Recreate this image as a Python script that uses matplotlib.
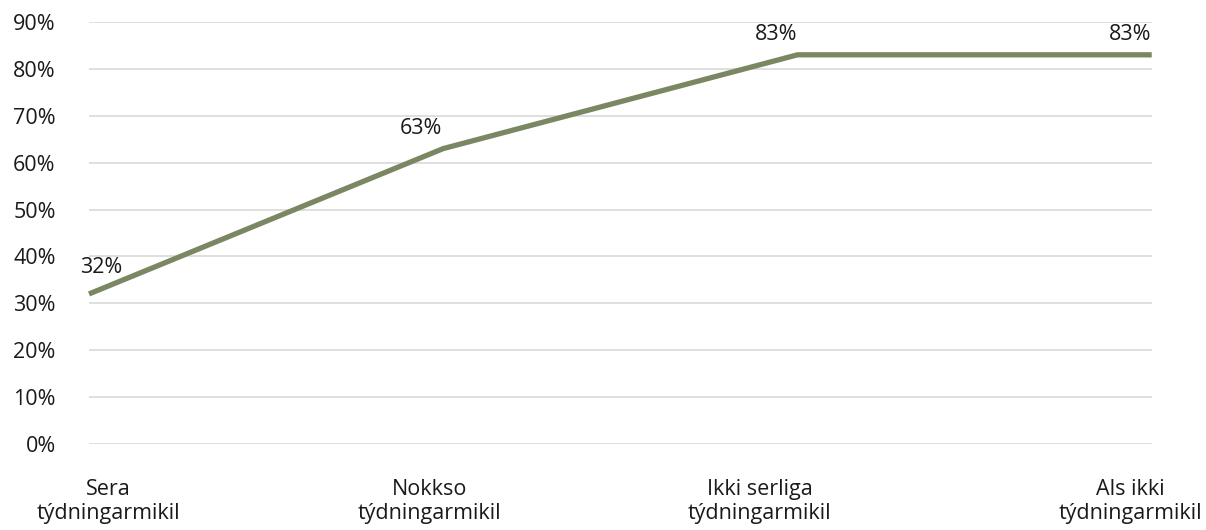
import matplotlib
matplotlib.use("Agg")
import matplotlib.pyplot as plt
import matplotlib.transforms as mtransforms
from matplotlib.ticker import PercentFormatter

plt.rcParams["font.family"] = ["Open Sans", "DejaVu Sans"]

categories = ["Sera\ntýdningarmikil", "Nokkso\ntýdningarmikil",
              "Ikki serliga\ntýdningarmikil", "Als ikki\ntýdningarmikil"]
values = [32, 63, 83, 83]
value_labels = ["32%", "63%", "83%", "83%"]

LINE_COLOR = "#7a8763"
GRID_COLOR = "#d9d9d9"
TEXT_COLOR = "#1a1a1a"
FS = 15.5

# label nudges in pixels as placed by the original chart
tick_shift = [19, -14, -38, -21]
label_shift = [12, -22, -21, -22]
label_lift = [16, 10, 10, 10]

fig = plt.figure(figsize=(12.06, 5.30), dpi=100, facecolor="white")
ax = fig.add_axes([0.0738, 0.1623, 0.8812, 0.7962])

x = list(range(len(values)))
ax.plot(x, values, color=LINE_COLOR, linewidth=3.8, solid_joinstyle="round",
        solid_capstyle="butt", zorder=3, clip_on=False)

for xi, v, lab, dx, dy in zip(x, values, value_labels, label_shift, label_lift):
    ax.annotate(lab, (xi, v), xytext=(dx * 0.72, dy * 0.72), textcoords="offset points",
                ha="center", va="bottom", fontsize=FS, color=TEXT_COLOR)

ax.set_xlim(0, 3)
ax.set_ylim(0, 90)
ax.set_yticks(range(0, 91, 10))
ax.yaxis.set_major_formatter(PercentFormatter(decimals=0))
ax.grid(axis="y", color=GRID_COLOR, linewidth=1.2)
ax.set_axisbelow(True)
for s in ax.spines.values():
    s.set_visible(False)
ax.tick_params(axis="y", length=0, pad=24, labelsize=FS, colors=TEXT_COLOR)
ax.tick_params(axis="x", length=0, pad=25, labelsize=FS, colors=TEXT_COLOR)

ax.set_xticks(x)
ax.set_xticklabels(categories, linespacing=1.2)
for lbl, dx in zip(ax.get_xticklabels(), tick_shift):
    lbl.set_transform(lbl.get_transform() +
                      mtransforms.ScaledTranslation(dx / 100, 0, fig.dpi_scale_trans))

fig.savefig("out.png", dpi=100, facecolor="white")
